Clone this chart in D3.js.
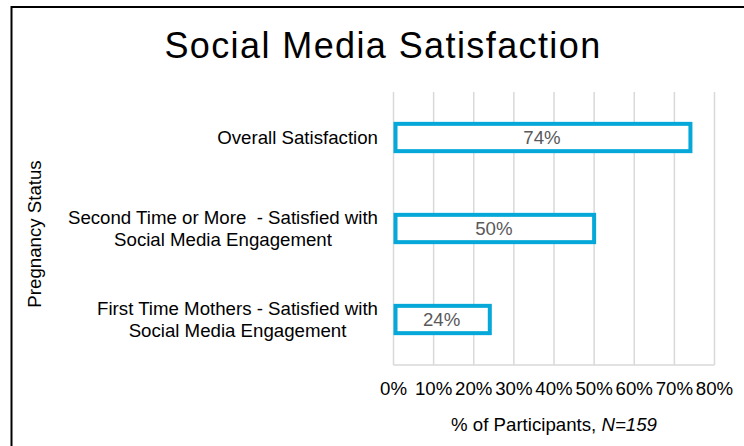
<!DOCTYPE html>
<html>
<head>
<meta charset="utf-8">
<script src="https://cdn.jsdelivr.net/npm/d3@7"></script>
<style>
  body { margin: 0; background: #fff; }
  text { font-family: "Liberation Sans", Arial, sans-serif; white-space: pre; }
</style>
</head>
<body>
<div id="chart"></div>
<script>
// categories, top to bottom as in the picture
var categories = [
  ["Overall Satisfaction"],
  ["Second Time or More  - Satisfied with", "Social Media Engagement"],
  ["First Time Mothers - Satisfied with", "Social Media Engagement"]
];
var values = [74, 50, 24];
var ticks = [0, 10, 20, 30, 40, 50, 60, 70, 80];

var width = 744, height = 446;
var margin = {top: 92, right: 29.5, bottom: 81, left: 393.5};

var svg = d3.select("#chart").append("svg")
  .attr("width", width)
  .attr("height", height);

// chart border (runs off the right and bottom edge)
svg.append("rect")
  .attr("x", 11.5).attr("y", 7)
  .attr("width", width + 20).attr("height", height + 20)
  .attr("fill", "none")
  .attr("stroke", "#000")
  .attr("stroke-width", 2);

var x = d3.scaleLinear()
  .domain([0, 80])
  .range([margin.left, width - margin.right]);

var y = d3.scaleBand()
  .domain(d3.range(categories.length))
  .range([margin.top, height - margin.bottom])
  .paddingInner(0.7)
  .paddingOuter(0.35);

// gridlines
svg.append("g")
  .selectAll("line")
  .data(ticks)
  .enter().append("line")
  .attr("x1", d => x(d)).attr("x2", d => x(d))
  .attr("y1", margin.top).attr("y2", height - margin.bottom)
  .attr("stroke", "#d9d9d9")
  .attr("stroke-width", 1.5);

svg.append("line")
  .attr("x1", x(0)).attr("x2", x(80))
  .attr("y1", height - margin.bottom).attr("y2", height - margin.bottom)
  .attr("stroke", "#d9d9d9")
  .attr("stroke-width", 1.5);

// bars (outlined)
svg.append("g")
  .selectAll("rect")
  .data(values)
  .enter().append("rect")
  .attr("x", x(0) + 2)
  .attr("y", (d, i) => y(i))
  .attr("width", d => x(d) - x(0) - 2)
  .attr("height", y.bandwidth())
  .attr("fill", "#fff")
  .attr("stroke", "#05a8d8")
  .attr("stroke-width", 4);

// value labels
svg.append("g")
  .selectAll("text")
  .data(values)
  .enter().append("text")
  .attr("x", d => (x(0) + x(d)) / 2)
  .attr("y", (d, i) => y(i) + y.bandwidth() / 2)
  .attr("dy", "0.35em")
  .attr("text-anchor", "middle")
  .attr("fill", "#595959")
  .style("font-size", "18.67px")
  .text(d => d + "%");

// x tick labels
svg.append("g")
  .selectAll("text")
  .data(ticks)
  .enter().append("text")
  .attr("x", d => x(d))
  .attr("y", 395)
  .attr("text-anchor", "middle")
  .attr("fill", "#000")
  .style("font-size", "18.67px")
  .text(d => d + "%");

// category labels, each block centered with its right edge at 378
var labelRight = 378;
categories.forEach(function(lines, i) {
  var t = svg.append("text")
    .attr("text-anchor", "middle")
    .style("font-size", "18.67px")
    .attr("fill", "#000");
  var cy = y(i) + y.bandwidth() / 2;
  var lh = 22.5;
  lines.forEach(function(s, j) {
    t.append("tspan")
      .attr("y", cy + (j - (lines.length - 1) / 2) * lh)
      .attr("dy", "0.35em")
      .text(s);
  });
  var maxW = d3.max(t.selectAll("tspan").nodes(), n => n.getComputedTextLength());
  t.selectAll("tspan").attr("x", labelRight - maxW / 2);
});

// title
svg.append("text")
  .attr("x", 383)
  .attr("y", 57.5)
  .attr("text-anchor", "middle")
  .style("font-size", "36px")
  .style("letter-spacing", "1.4px")
  .attr("fill", "#000")
  .text("Social Media Satisfaction");

// axis titles
var xt = svg.append("text")
  .attr("x", (x(0) + x(80)) / 2)
  .attr("y", 431)
  .attr("text-anchor", "middle")
  .style("font-size", "18.67px")
  .attr("fill", "#000");
xt.append("tspan").text("% of Participants, ");
xt.append("tspan").style("font-style", "italic").text("N=159");

svg.append("text")
  .attr("transform", "translate(41,234) rotate(-90)")
  .attr("text-anchor", "middle")
  .style("font-size", "18.67px")
  .attr("fill", "#000")
  .text("Pregnancy Status");
</script>
</body>
</html>
